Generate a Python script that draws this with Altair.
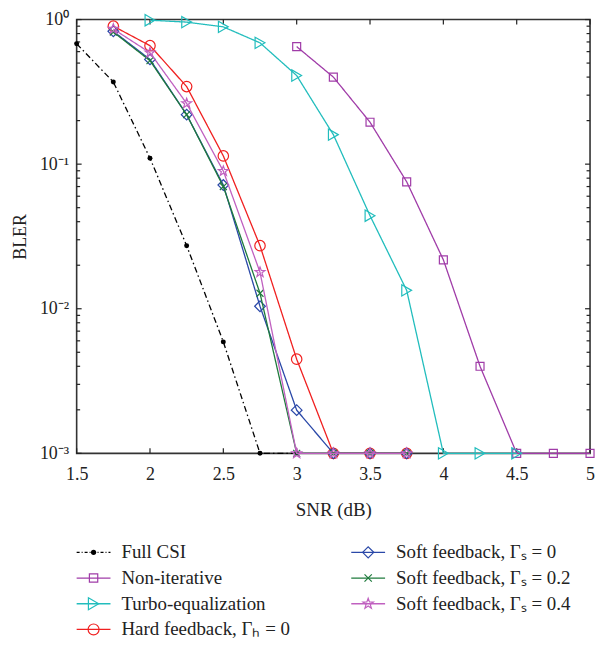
import altair as alt
import pandas as pd

# ---- data ----
snr_full = [1.5, 1.75, 2.0, 2.25, 2.5, 2.75, 3.0]
bler_full = [0.68, 0.37, 0.11, 0.0273, 0.0059, 0.001, 0.001]

snr_noniter = [3.0, 3.25, 3.5, 3.75, 4.0, 4.25, 4.5, 4.75, 5.0]
bler_noniter = [0.65, 0.40, 0.195, 0.0755, 0.0218, 0.0040, 0.001, 0.001, 0.001]

snr_turbo = [2.0, 2.25, 2.5, 2.75, 3.0, 3.25, 3.5, 3.75, 4.0, 4.25, 4.5]
bler_turbo = [0.99, 0.96, 0.89, 0.69, 0.41, 0.16, 0.044, 0.0134, 0.001, 0.001, 0.001]

snr_hard = [1.75, 2.0, 2.25, 2.5, 2.75, 3.0, 3.25, 3.5, 3.75]
bler_hard = [0.90, 0.66, 0.344, 0.114, 0.0273, 0.00448, 0.001, 0.001, 0.001]

snr_soft0 = [1.75, 2.0, 2.25, 2.5, 2.75, 3.0, 3.25, 3.5, 3.75]
bler_soft0 = [0.83, 0.53, 0.22, 0.0717, 0.0104, 0.00199, 0.001, 0.001, 0.001]

snr_soft2 = [1.75, 2.0, 2.25, 2.5, 2.75, 3.0, 3.25, 3.5, 3.75]
bler_soft2 = [0.82, 0.52, 0.22, 0.070, 0.0128, 0.001, 0.001, 0.001, 0.001]

snr_soft4 = [1.75, 2.0, 2.25, 2.5, 2.75, 3.0, 3.25, 3.5, 3.75]
bler_soft4 = [0.86, 0.59, 0.263, 0.0895, 0.0179, 0.001, 0.001, 0.001, 0.001]

names = ["Full CSI", "Non-iterative", "Turbo-equalization", "Hard feedback, Γₕ = 0",
         "Soft feedback, Γₛ = 0", "Soft feedback, Γₛ = 0.2", "Soft feedback, Γₛ = 0.4"]
colors = ["#000000", "#A03CA8", "#22BDBD", "#F02020", "#2A48A8", "#1E7A3C", "#C060C0"]

STAR = "M0,-1L0.24,-0.33L0.95,-0.31L0.38,0.12L0.59,0.81L0,0.4L-0.59,0.81L-0.38,0.12L-0.95,-0.31L-0.24,-0.33Z"
XMARK = "M-1,-1L1,1M-1,1L1,-1"
shapes = ["circle", "square", "triangle-right", "circle", "diamond", XMARK, STAR]
sizes = [25, 64, 130, 110, 115, 49, 110]

series = [(snr_full, bler_full), (snr_noniter, bler_noniter), (snr_turbo, bler_turbo),
          (snr_hard, bler_hard), (snr_soft0, bler_soft0), (snr_soft2, bler_soft2),
          (snr_soft4, bler_soft4)]

rows = []
for n, (xs, ys) in zip(names, series):
    for xv, yv in zip(xs, ys):
        rows.append({"name": n, "snr": xv, "bler": yv})
df = pd.DataFrame(rows)

x_ticks = [1.5, 2, 2.5, 3, 3.5, 4, 4.5, 5]
y_major = [1, 0.1, 0.01, 0.001]
y_minor = [m * d for d in [0.001, 0.01, 0.1] for m in range(2, 10)]

W, H = 516, 436
FONT = "Liberation Serif, Times New Roman, serif"

xscale = alt.Scale(domain=[1.5, 5], nice=False)
yscale = alt.Scale(type="log", domain=[0.001, 1], nice=False)
cscale = alt.Scale(domain=names, range=colors)

layers = []
for i, n in enumerate(names):
    sub = alt.Chart(df[df["name"] == n])
    dash = [6, 3, 1.5, 3] if i == 0 else [1, 0]
    line = sub.mark_line(strokeWidth=1.3, strokeDash=dash).encode(
        x=alt.X("snr:Q", scale=xscale),
        y=alt.Y("bler:Q", scale=yscale),
        color=alt.Color("name:N", scale=cscale, legend=None),
    )
    pt = sub.mark_point(shape=shapes[i], size=sizes[i], filled=(i == 0),
                        strokeWidth=1.2, opacity=1).encode(
        x=alt.X("snr:Q", scale=xscale),
        y=alt.Y("bler:Q", scale=yscale),
        color=alt.Color("name:N", scale=cscale, legend=None),
    )
    layers += [line, pt]

labexpr = ("datum.value >= 0.99 ? '10⁰' : datum.value >= 0.099 ? '10⁻¹' : "
           "datum.value >= 0.0099 ? '10⁻²' : '10⁻³'")

axes = alt.Chart(pd.DataFrame({"bler": y_major, "snr": [1.5] * 4})).mark_rule(opacity=0).encode(
    x=alt.X("snr:Q", scale=xscale, title="SNR (dB)",
            axis=alt.Axis(values=x_ticks, ticks=False, domain=False, grid=False,
                          labelFont=FONT, labelFontSize=18, labelColor="#222",
                          labelPadding=12, labelFlush=False, titleFont=FONT, titleFontSize=19,
                          titleFontWeight="normal", titleColor="#222", titlePadding=17,
                          format="~g")),
    y=alt.Y("bler:Q", scale=yscale, title="BLER",
            axis=alt.Axis(values=y_major, ticks=False, domain=False, grid=False,
                          labelExpr=labexpr, labelFont=FONT, labelFontSize=18,
                          labelColor="#222", labelPadding=8, titleFont=FONT,
                          titleFontSize=18, titleFontWeight="normal", titleColor="#222",
                          titlePadding=10)),
)

ymaj_df = pd.DataFrame({"bler": y_major})
ymin_df = pd.DataFrame({"bler": y_minor})
xt_df = pd.DataFrame({"snr": x_ticks})
tick_color = "#222"
ticks = []
for d, ln in [(ymaj_df, 5), (ymin_df, 3.5)]:
    ticks.append(alt.Chart(d).mark_rule(color=tick_color, strokeWidth=1.2).encode(
        y=alt.Y("bler:Q", scale=yscale), x=alt.value(0), x2=alt.value(ln)))
    ticks.append(alt.Chart(d).mark_rule(color=tick_color, strokeWidth=1.2).encode(
        y=alt.Y("bler:Q", scale=yscale), x=alt.value(W), x2=alt.value(W - ln)))
ticks.append(alt.Chart(xt_df).mark_rule(color=tick_color, strokeWidth=1.2).encode(
    x=alt.X("snr:Q", scale=xscale), y=alt.value(0), y2=alt.value(5)))
ticks.append(alt.Chart(xt_df).mark_rule(color=tick_color, strokeWidth=1.2).encode(
    x=alt.X("snr:Q", scale=xscale), y=alt.value(H), y2=alt.value(H - 5)))

main = alt.layer(axes, *ticks, *layers).properties(
    width=W, height=H, view=alt.ViewConfig(stroke="#333", strokeWidth=1.6))

# ---- manual legend ----
leg_col = [0, 0, 0, 0, 1, 1, 1]
leg_row = [0, 1, 2, 3, 0, 1, 2]
leg = pd.DataFrame({"name": names, "col": leg_col, "row": leg_row})
lx = alt.Scale(domain=[0, 1], range=[17, 293])
ly = alt.Scale(domain=[0, 3], range=[9.5, 87])
leg_layers = []
for i, n in enumerate(names):
    sub = alt.Chart(leg[leg["name"] == n])
    dash = [3, 2, 1, 2] if i == 0 else [1, 0]
    leg_layers.append(sub.mark_rule(strokeWidth=1.3, strokeDash=dash, xOffset=-17, x2Offset=17).encode(
        x=alt.X("col:Q", scale=lx, axis=None), x2="col:Q",
        y=alt.Y("row:Q", scale=ly, axis=None),
        color=alt.Color("name:N", scale=cscale, legend=None)))
    leg_layers.append(sub.mark_point(shape=shapes[i], size=sizes[i] * 1.1, filled=(i == 0),
                                     strokeWidth=1.2, opacity=1).encode(
        x=alt.X("col:Q", scale=lx, axis=None),
        y=alt.Y("row:Q", scale=ly, axis=None),
        color=alt.Color("name:N", scale=cscale, legend=None)))
leg_layers.append(alt.Chart(leg).mark_text(align="left", baseline="middle", dx=28,
                                           font=FONT, fontSize=19, color="#222").encode(
    x=alt.X("col:Q", scale=lx, axis=None),
    y=alt.Y("row:Q", scale=ly, axis=None),
    text="name:N"))
legend = alt.layer(*leg_layers).properties(
    width=W, height=87, view=alt.ViewConfig(stroke="transparent"))

chart = alt.vconcat(main, legend, spacing=22).properties(
    padding={"left": 2, "top": 0, "right": 0, "bottom": 0}
).configure(background="white")

chart.save("out.html", embed_options={"renderer": "svg", "actions": False})
